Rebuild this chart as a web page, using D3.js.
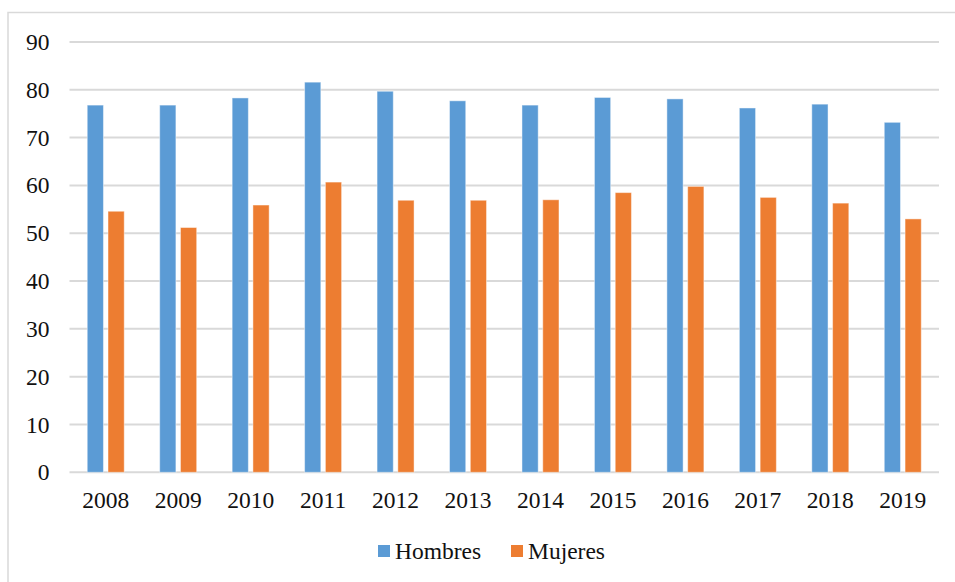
<!DOCTYPE html>
<html>
<head>
<meta charset="utf-8">
<script src="https://cdn.jsdelivr.net/npm/d3@7"></script>
<style>
  html, body { margin: 0; padding: 0; background: #fff; }
  svg { display: block; }
</style>
</head>
<body>
<div id="chart"></div>
<script>
// Years on the category axis
const years = ["2008", "2009", "2010", "2011", "2012", "2013", "2014", "2015", "2016", "2017", "2018", "2019"];
// Series values
const hombres = [76.8, 76.8, 78.3, 81.6, 79.7, 77.7, 76.8, 78.4, 78.1, 76.2, 77.0, 73.2];
const mujeres = [54.6, 51.2, 55.9, 60.7, 56.9, 56.9, 57.0, 58.5, 59.8, 57.5, 56.3, 53.0];
const seriesNames = ["Hombres", "Mujeres"];
const seriesColors = ["#5B9BD5", "#ED7D31"];
// Value axis ticks
const yTicks = [0, 10, 20, 30, 40, 50, 60, 70, 80, 90];

const W = 955, H = 582;
const FONT = "'Liberation Serif', Tinos, 'Times New Roman', 'DejaVu Serif', serif";
const FONT_SIZE = 23.5;
const margin = { left: 69.5, right: 16, top: 42, bottom: 110 };
const plotW = 939 - margin.left;
const plotH = 472.3 - margin.top;

const svg = d3.select("#chart").append("svg")
  .attr("width", W).attr("height", H);

// Chart area frame
svg.append("rect")
  .attr("x", 8).attr("y", 12.5)
  .attr("width", W + 10).attr("height", H + 10)
  .attr("fill", "none").attr("stroke", "#d9d9d9").attr("stroke-width", 1.5);

const g = svg.append("g").attr("transform", `translate(${margin.left},${margin.top})`);

const x = d3.scaleBand().domain(years).range([0, plotW]).paddingInner(0).paddingOuter(0);
const x1 = d3.scaleBand().domain(seriesNames).range([x.bandwidth() / 2 - 18.5, x.bandwidth() / 2 + 18.5]).paddingInner(0.22);
const y = d3.scaleLinear().domain([0, 90]).range([plotH, 0]);

// Horizontal gridlines
g.append("g")
  .selectAll("line").data(yTicks).join("line")
  .attr("x1", 0).attr("x2", plotW)
  .attr("y1", d => y(d)).attr("y2", d => y(d))
  .attr("stroke", "#d9d9d9").attr("stroke-width", 2);

// Value axis labels
const yAxis = g.append("g").call(d3.axisLeft(y).tickValues(yTicks).tickSize(0).tickPadding(20));
yAxis.attr("font-family", FONT).attr("font-size", FONT_SIZE);
yAxis.select(".domain").remove();
yAxis.selectAll("text").attr("fill", "#111");

// Category axis labels
const xAxis = g.append("g").attr("transform", `translate(0,${plotH})`)
  .call(d3.axisBottom(x).tickSize(0).tickPadding(19));
xAxis.attr("font-family", FONT).attr("font-size", FONT_SIZE);
xAxis.select(".domain").remove();
xAxis.selectAll("text").attr("fill", "#111");

// Bars
const rows = years.map((yr, i) => ({ year: yr, values: [hombres[i], mujeres[i]] }));
const groups = g.append("g").selectAll("g").data(rows).join("g")
  .attr("transform", d => `translate(${x(d.year)},0)`);
groups.selectAll("rect")
  .data(d => d.values.map((v, k) => ({ name: seriesNames[k], value: v, color: seriesColors[k] })))
  .join("rect")
  .attr("x", d => x1(d.name))
  .attr("width", x1.bandwidth())
  .attr("y", d => y(d.value))
  .attr("height", d => y(0) - y(d.value))
  .attr("fill", d => d.color)
  .attr("stroke", "rgba(255,255,255,0.45)")
  .attr("stroke-width", 1);

// Legend
const legendItems = [
  { name: seriesNames[0], color: seriesColors[0], x: 378 },
  { name: seriesNames[1], color: seriesColors[1], x: 511 }
];
const legend = svg.append("g").attr("font-family", FONT).attr("font-size", FONT_SIZE);
const li = legend.selectAll("g").data(legendItems).join("g")
  .attr("transform", d => `translate(${d.x},545)`);
li.append("rect").attr("width", 12).attr("height", 12).attr("fill", d => d.color);
li.append("text")
  .attr("x", 17).attr("y", 13.5)
  .attr("fill", "#111")
  .text(d => d.name);
</script>
</body>
</html>
